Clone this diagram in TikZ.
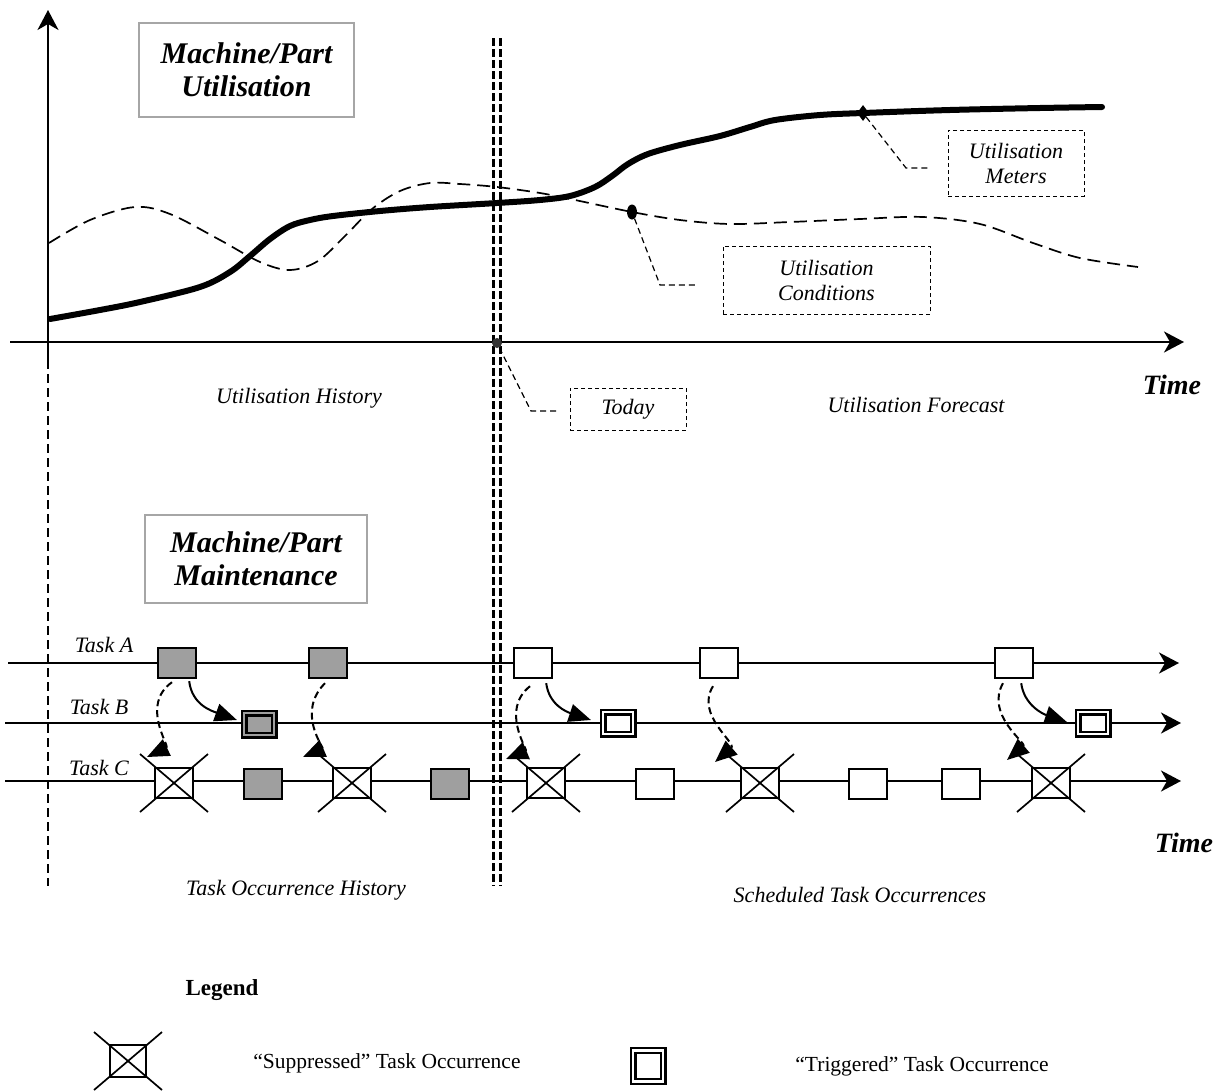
\documentclass[tikz,border=0pt]{standalone}
\usepackage{fontspec}
\setmainfont{Liberation Serif}
\usetikzlibrary{arrows.meta,calc,shapes.geometric}
\begin{document}
\begin{tikzpicture}[x=1pt,y=-1pt,
  lbl/.style={font=\fontsize{22}{25}\selectfont\itshape, inner sep=0, align=center},
  titlebox/.style={draw=gray!70, line width=1.2pt, align=center, inner sep=0,
    font=\fontsize{30}{33}\selectfont\bfseries\itshape},
  timelbl/.style={font=\fontsize{28}{30}\selectfont\bfseries\itshape, inner sep=0},
  legtext/.style={font=\fontsize{21.5}{24}\selectfont, inner sep=0},
  calbox/.style={lbl, draw, line width=1pt, dash pattern=on 4pt off 3pt},
  calline/.style={line width=1.2pt, dash pattern=on 6pt off 4pt},
  axisarrow/.style={line width=2.2pt, -{Stealth[length=20pt,width=21pt,inset=6pt]}},
  taskline/.style={line width=2.2pt, -{Stealth[length=20pt,width=21pt,inset=6pt]}},
  occ/.style={draw, line width=2.4pt, minimum width=38pt, minimum height=30pt, inner sep=0},
  past/.style={occ, fill=gray!75},
  fut/.style={occ, fill=white},
  crossed/.style={occ, fill=white},
  trig/.style={draw, line width=2.2pt, double distance=2.6pt, minimum width=30pt, minimum height=22pt, inner sep=0},
  darr/.style={line width=2pt, dash pattern=on 7pt off 4pt, -{Triangle[length=22pt,width=18pt]}},
  sarr/.style={line width=2pt, -{Triangle[length=22pt,width=18pt]}},
  xline/.style={line width=1.7pt},
  dot/.style={fill=black, inner sep=0}
]
\useasboundingbox (0,0) rectangle (1220,1090);

% ---------- upper graph ----------
\coordinate (yb) at (48,360);
\coordinate (yt) at (48,10);
\coordinate (xl) at (10,342);
\coordinate (xr) at (1184,342);
\draw[axisarrow] (yb) -- (yt);
\draw[axisarrow] (xl) -- (xr);

% left dashed vertical
\coordinate (lv0) at (48,360);
\coordinate (lv1) at (48,886);
\draw[line width=1.6pt, dash pattern=on 9pt off 5pt] (lv0) -- (lv1);

% today double dashed line
\coordinate (td0) at (493.5,38);
\coordinate (td1) at (493.5,886);
\coordinate (te0) at (500.5,38);
\coordinate (te1) at (500.5,886);
\draw[line width=3pt, dash pattern=on 8pt off 3pt] (td0) -- (td1);
\draw[line width=3pt, dash pattern=on 8pt off 3pt] (te0) -- (te1);

% dashed conditions curve
\draw[line width=1.7pt, dash pattern=on 13pt off 7pt] plot[smooth, tension=0.55] coordinates {
 (49,243) (90,220) (135,207) (170,214) (220,240) (260,262) (290,270) (318,261)
 (345,236) (372,209) (400,191) (430,183) (460,184) (497,187) (540,193) (575,200)
 (632,212) (680,220) (730,224) (790,222) (860,219) (923,217) (980,224) (1033,243)
 (1080,258) (1138,267)};

% thick meter curve
\draw[line width=6pt, line cap=round] plot[smooth, tension=0.55] coordinates {
 (50,319) (100,310) (140,302) (200,287) (230,272) (250,256) (270,239) (290,226)
 (310,220) (333,216) (380,211) (430,207) (497,203) (540,200) (570,196) (595,187)
 (612,176) (628,164) (648,154) (680,145) (720,136) (750,127) (775,120) (820,115)
 (863,113) (950,110) (1040,108) (1102,107)};

% title box
\node[titlebox, minimum width=215pt, minimum height=94pt] (t1) at (246.5,70) {Machine/Part\\Utilisation};

% meters callout
\node[dot, diamond, minimum width=12pt, minimum height=16pt] (mdot) at (863,113) {};
\node[calbox, minimum width=136pt, minimum height=66pt] (meters) at (1016,163) {Utilisation\\Meters};
\coordinate (mb) at (906,168);
\coordinate (me) at (928,168);
\draw[calline] (mdot) -- (mb) -- (me);

% conditions callout
\node[dot, ellipse, minimum width=10pt, minimum height=15pt] (cdot) at (632,212) {};
\node[calbox, minimum width=207pt, minimum height=68pt] (cond) at (826.5,280) {Utilisation\\Conditions};
\coordinate (cb) at (660,285);
\coordinate (ce) at (696,285);
\draw[calline] (cdot) -- (cb) -- (ce);

% today callout
\node[circle, fill=black!80, inner sep=0, minimum size=10pt] (tdot) at (497,343) {};
\node[calbox, minimum width=116pt, minimum height=42pt] (today) at (628,409) {Today};
\coordinate (tb) at (531,411);
\coordinate (tend) at (556,411);
\draw[calline] (tdot) -- (tb) -- (tend);

% upper labels
\node[lbl] (uh) at (299,398) {Utilisation History};
\node[lbl] (uf) at (916,405) {Utilisation Forecast};
\node[timelbl] (time1) at (1172,385) {Time};

% ---------- lower part ----------
\node[titlebox, minimum width=222pt, minimum height=88pt] (t2) at (256,559) {Machine/Part\\Maintenance};

\coordinate (la0) at (8,663);   \coordinate (la1) at (1179,663);
\coordinate (lb0) at (5,723);   \coordinate (lb1) at (1181,723);
\coordinate (lc0) at (5,781);   \coordinate (lc1) at (1181,781);
\draw[taskline] (la0) -- (la1);
\draw[taskline] (lb0) -- (lb1);
\draw[taskline] (lc0) -- (lc1);

\node[lbl] (ta) at (104,645) {Task A};
\node[lbl] (tbl) at (99,707) {Task B};
\node[lbl] (tc) at (99,768) {Task C};

% Task A
\node[past] (a1) at (177,663) {};
\node[past] (a2) at (328,663) {};
\node[fut]  (a3) at (533,663) {};
\node[fut]  (a4) at (719,663) {};
\node[fut]  (a5) at (1014,663) {};
% Task B
\node[trig, fill=gray!75, double=gray!75] (b1) at (259,724) {};
\node[trig, fill=white, double=white] (b2) at (618,723) {};
\node[trig, fill=white, double=white] (b3) at (1093,723) {};
% Task C
\node[crossed] (c1) at (174,783) {};
\node[past]    (c2) at (263,784) {};
\node[crossed] (c3) at (352,783) {};
\node[past]    (c4) at (450,784) {};
\node[crossed] (c5) at (546,783) {};
\node[fut]     (c6) at (655,784) {};
\node[crossed] (c7) at (760,783) {};
\node[fut]     (c8) at (868,784) {};
\node[fut]     (c9) at (961,784) {};
\node[crossed] (c10) at (1051,783) {};
\foreach \n in {c1,c3,c5,c7,c10}{
  \draw[xline] ($(\n.center)+(-34,-29)$) -- ($(\n.center)+(34,29)$);
  \draw[xline] ($(\n.center)+(-34,29)$) -- ($(\n.center)+(34,-29)$);
}

% solid triggering arrows
\draw[sarr] ($(a1.south east)+(-8,2)$) .. controls (192,705) and (212,711) .. ($(b1.west)+(-6,-4)$);
\draw[sarr] ($(a3.south east)+(-7,4)$) .. controls (549,705) and (567,712) .. ($(b2.west)+(-11,-3)$);
\draw[sarr] ($(a5.south east)+(-13,4)$) .. controls (1024,705) and (1043,714) .. ($(b3.west)+(-10,-1)$);

% dashed suppressing arrows
\draw[darr] ($(a1.south)+(-5,3)$) .. controls (140,705) and (170,746) .. ($(c1.center)+(-27,-26)$);
\draw[darr] ($(a2.south)+(-3,4)$) .. controls (296,712) and (324,748) .. ($(c3.center)+(-49,-26)$);
\draw[darr] ($(a3.south)+(-3,7)$) .. controls (500,710) and (528,750) .. ($(c5.center)+(-40,-24)$);
\draw[darr] ($(a4.south)+(-6,7)$) .. controls (695,715) and (737,743) .. ($(c7.center)+(-45,-21)$);
\draw[darr] ($(a5.south)+(-11,4)$) .. controls (985,715) and (1027,743) .. ($(c10.center)+(-44,-23)$);

\node[lbl] (toh) at (296,890) {Task Occurrence History};
\node[lbl] (sto) at (860,895) {Scheduled Task Occurrences};
\node[timelbl] (time2) at (1184,843) {Time};

% ---------- legend ----------
\node[font=\fontsize{23}{26}\selectfont\bfseries, inner sep=0] (leg) at (222,990) {Legend};
\node[occ, line width=1.7pt, minimum width=36pt, minimum height=32pt, fill=white] (lx) at (128,1061) {};
\draw[xline] ($(lx.center)+(-34,-29)$) -- ($(lx.center)+(34,29)$);
\draw[xline] ($(lx.center)+(-34,29)$) -- ($(lx.center)+(34,-29)$);
\node[legtext] (lxt) at (387,1063) {“Suppressed” Task Occurrence};
\node[trig, fill=white, double=white, minimum width=30pt, minimum height=31pt] (lt) at (648,1066) {};
\node[legtext] (ltt) at (922,1066) {“Triggered” Task Occurrence};
\end{tikzpicture}
\end{document}
